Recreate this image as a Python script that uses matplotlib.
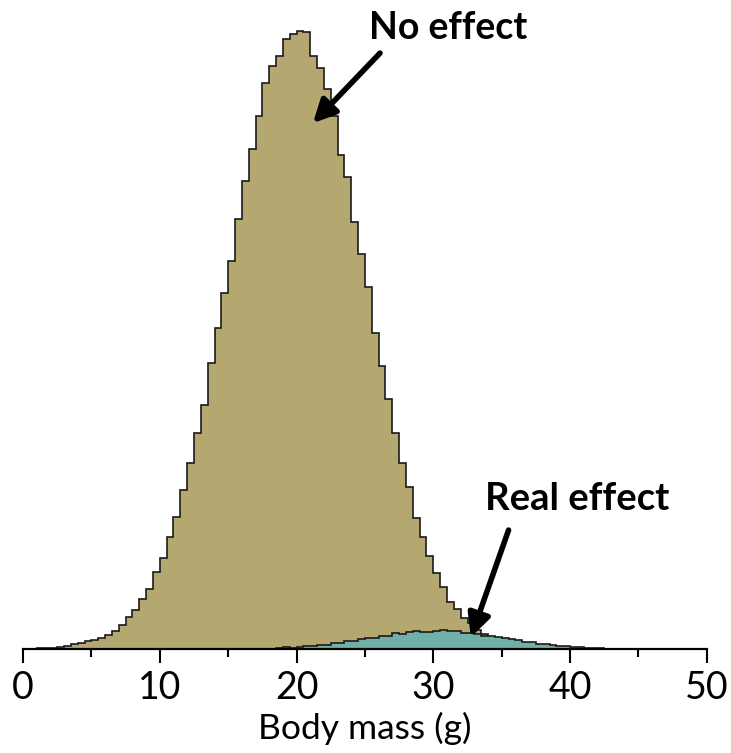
import matplotlib.pyplot as plt
import numpy as np

# bin width 0.5 g, heights (arbitrary units)
bin_width = 0.5

no_effect_start = 0.0
no_effect = [
    0.2, 0.4, 0.7, 1.0, 1.5, 2.3, 3.3, 4.7, 6.0, 7.7,
    9.0, 10.7, 14, 18.3, 24, 32, 39.5, 49.7, 60, 77,
    91, 112, 132, 159, 186, 216, 244, 286, 321, 356,
    388, 430, 468, 500, 533, 566, 583, 593, 610, 615,
    618, 617, 593, 581, 560, 533, 494, 472, 427, 395,
    362, 316, 283, 250, 216, 186, 162, 131, 112, 93,
    76, 62, 47, 40, 31, 26, 19, 15, 11, 8,
    6, 4.5, 3.2, 2.3, 1.6, 1.1, 0.7, 0.5, 0.3, 0.2,
    0.1,
]

real_effect_start = 18.0
real_effect = [
    0.3, 0.6, 1.7, 1.2, 1.7, 2.7, 3.3, 4.3, 3.8, 6,
    6.2, 8.3, 8.5, 10.3, 11.3, 11.5, 13.3, 13.5, 15.8, 15.3,
    16.7, 17.7, 17, 17.2, 18.3, 19, 18, 18.3, 16.3, 16,
    15, 13.3, 12.7, 12, 10.7, 10, 8.7, 7.3, 7, 5.3,
    4.7, 4, 3, 2.7, 2, 1.7, 1.3, 1, 0.7, 0.5,
    0.3, 0.2, 0.1,
]

tan = '#b4a770'
teal = '#70b0a8'

plt.rcParams['font.family'] = ['Lato', 'DejaVu Sans']

fig = plt.figure(figsize=(7.31, 7.53), dpi=100)
ax = fig.add_axes([0.0315, 0.138, 0.9355, 0.83])


def edges_for(start, values):
    return start + bin_width * np.arange(len(values) + 1)


e1 = edges_for(no_effect_start, no_effect)
e2 = edges_for(real_effect_start, real_effect)

ax.stairs(no_effect, e1, fill=True, facecolor=tan, edgecolor='none', zorder=1)
ax.stairs(no_effect, e1, color='#1a1a1a', lw=1.2, zorder=2)
ax.stairs(real_effect, e2, fill=True, facecolor=teal, edgecolor='none', zorder=3)
ax.stairs(real_effect, e2, color='#1a1a1a', lw=1.2, zorder=4)

ax.set_xlim(0, 50)
ax.set_ylim(0, 625)

for s in ['left', 'right', 'top']:
    ax.spines[s].set_visible(False)
ax.spines['bottom'].set_linewidth(1.6)
ax.spines['bottom'].set_zorder(5)

ax.set_yticks([])
ax.set_xticks(np.arange(0, 51, 10))
ax.set_xticks(np.arange(5, 50, 10), minor=True)
ax.tick_params(axis='x', which='major', length=10, width=1.5, labelsize=27, pad=5)
ax.tick_params(axis='x', which='minor', length=6, width=1.5)
ax.set_xlabel('Body mass (g)', fontsize=25.5, labelpad=4)

arrow = dict(arrowstyle='-|>', lw=4, color='black', mutation_scale=34,
             shrinkA=0, shrinkB=0)
ax.annotate('', xy=(21.2, 526), xytext=(26.1, 596), arrowprops=arrow, zorder=6)
ax.annotate('', xy=(32.75, 12), xytext=(35.5, 119), arrowprops=arrow, zorder=6)
ax.text(31.1, 610, 'No effect', fontsize=27, fontweight='bold',
        ha='center', va='baseline', zorder=6)
ax.text(40.5, 139, 'Real effect', fontsize=27.5, fontweight='bold',
        ha='center', va='baseline', zorder=6)

fig.savefig('out.png', dpi=100)
